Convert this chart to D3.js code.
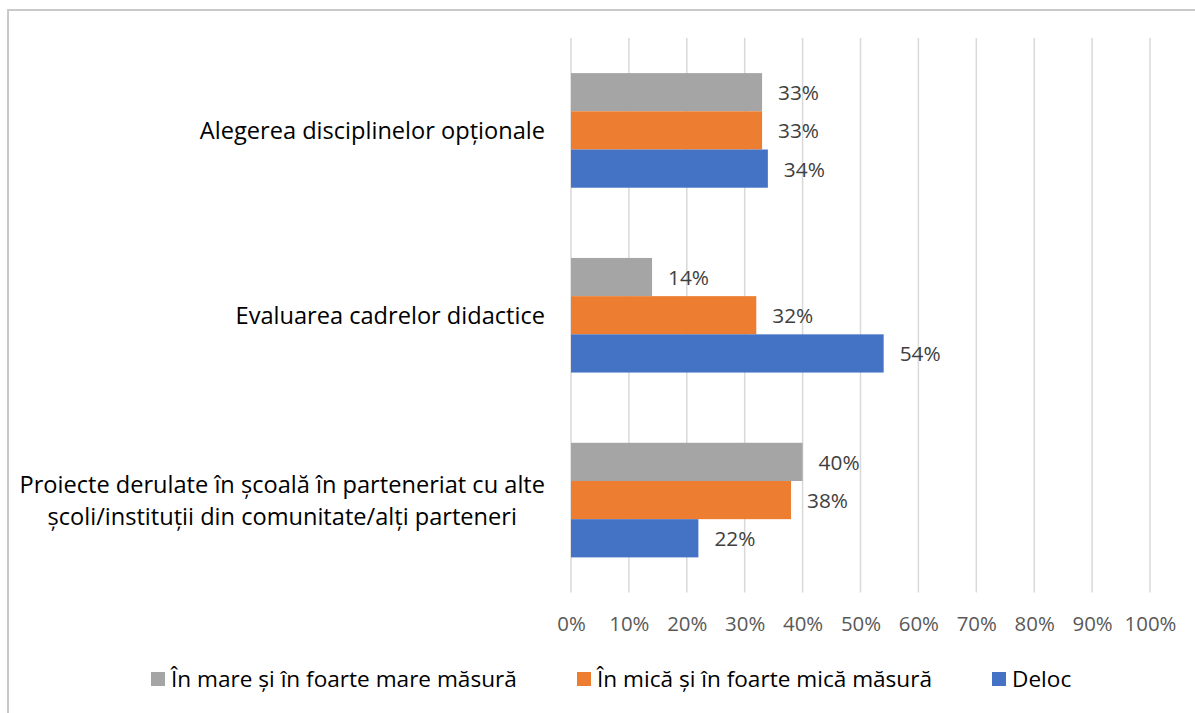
<!DOCTYPE html>
<html>
<head>
<meta charset="utf-8">
<script src="https://cdn.jsdelivr.net/npm/d3@7"></script>
<style>
  body { margin: 0; background: #fff; }
  text { font-family: "Open Sans", Lato, sans-serif; }
</style>
</head>
<body>
<div id="box"></div>
<script>
  var width = 1195;
  var height = 713;

  // categories, top to bottom (label lines as drawn)
  var categories = ["Alegerea disciplinelor opționale", "Evaluarea cadrelor didactice", "Proiecte derulate în școală în parteneriat cu alte școli/instituții din comunitate/alți parteneri"];
  var categoryLines = [
    ["Alegerea disciplinelor opționale"],
    ["Evaluarea cadrelor didactice"],
    ["Proiecte derulate în școală în parteneriat cu alte", "școli/instituții din comunitate/alți parteneri"]
  ];

  // series
  var seriesNames = ["În mare și în foarte mare măsură", "În mică și în foarte mică măsură", "Deloc"];
  var seriesColors = ["#a5a5a5", "#ed7d31", "#4472c4"];
  var mareValues = [33, 14, 40];
  var micaValues = [33, 32, 38];
  var delocValues = [34, 54, 22];
  var seriesValues = [mareValues, micaValues, delocValues];

  var tickValues = [0, 10, 20, 30, 40, 50, 60, 70, 80, 90, 100];

  var tickFont = 20.4;
  var dataFont = 20.8;
  var catFont = 23.6;   // category labels
  var legendFont = 22.6;

  var svg = d3.select("#box").append("svg")
    .attr("width", width)
    .attr("height", height);

  // chart border
  svg.append("rect")
    .attr("x", 8).attr("y", 10)
    .attr("width", width + 20).attr("height", height + 20)
    .attr("fill", "none")
    .attr("stroke", "#c9c9c9")
    .attr("stroke-width", 2);

  var plotTop = 38, plotBottom = 592.5;

  var x = d3.scaleLinear().domain([0, 100]).range([571, 1150]);
  var y = d3.scaleBand().domain(categories).range([plotTop, plotBottom])
    .paddingInner(0.38).paddingOuter(0.19);
  var ySub = d3.scaleBand().domain(seriesNames).range([0, y.bandwidth()]);

  // gridlines
  svg.append("g").selectAll("line")
    .data(tickValues)
    .enter().append("line")
    .attr("x1", function(d) { return x(d); })
    .attr("x2", function(d) { return x(d); })
    .attr("y1", plotTop)
    .attr("y2", plotBottom)
    .attr("stroke", "#d9d9d9")
    .attr("stroke-width", 1.5);

  // axis labels
  var axis = svg.append("g")
    .attr("transform", "translate(0," + plotBottom + ")")
    .call(d3.axisBottom(x).tickValues(tickValues).tickSize(0).tickPadding(24)
      .tickFormat(function(d) { return d + "%"; }));
  axis.select(".domain").remove();
  axis.selectAll("text")
    .attr("fill", "#595959")
    .style("font-family", "'Open Sans', Lato, sans-serif")
    .style("font-size", tickFont + "px");

  // bars
  var rows = [];
  categories.forEach(function(c, ci) {
    seriesNames.forEach(function(s, si) {
      rows.push({ cat: c, series: s, value: seriesValues[si][ci], color: seriesColors[si] });
    });
  });

  svg.append("g").selectAll("rect")
    .data(rows)
    .enter().append("rect")
    .attr("x", x(0))
    .attr("y", function(d) { return y(d.cat) + ySub(d.series); })
    .attr("width", function(d) { return x(d.value) - x(0); })
    .attr("height", ySub.bandwidth())
    .attr("fill", function(d) { return d.color; });

  // data labels
  svg.append("g").selectAll("text")
    .data(rows)
    .enter().append("text")
    .attr("x", function(d) { return x(d.value) + 16; })
    .attr("y", function(d) { return y(d.cat) + ySub(d.series) + ySub.bandwidth() / 2; })
    .attr("dy", "0.38em")
    .attr("fill", "#404040")
    .style("font-size", dataFont + "px")
    .text(function(d) { return d.value + "%"; });

  // category labels
  var catG = svg.append("g");
  categories.forEach(function(c, ci) {
    var lines = categoryLines[ci];
    var cy = y(c) + y.bandwidth() / 2;
    var lineH = 32;
    var g = catG.append("g");
    var texts = g.selectAll("text")
      .data(lines)
      .enter().append("text")
      .attr("y", function(d, i) { return cy + (i - (lines.length - 1) / 2) * lineH; })
      .attr("dy", "0.36em")
      .attr("fill", "#000")
      .attr("text-anchor", "middle")
      .style("font-size", catFont + "px")
      .text(function(d) { return d; });
    var maxW = 0;
    texts.each(function() { maxW = Math.max(maxW, this.getComputedTextLength()); });
    texts.attr("x", 545 - maxW / 2);
  });

  // legend
  var legendX = [151, 577, 992];
  var legend = svg.append("g").selectAll("g")
    .data(seriesNames)
    .enter().append("g")
    .attr("transform", function(d, i) { return "translate(" + legendX[i] + ",672)"; });
  legend.append("rect")
    .attr("width", 14).attr("height", 14)
    .attr("fill", function(d, i) { return seriesColors[i]; });
  legend.append("text")
    .attr("x", 20)
    .attr("y", 15)
    .attr("fill", "#000")
    .style("font-size", legendFont + "px")
    .text(function(d) { return d; });
</script>
</body>
</html>
